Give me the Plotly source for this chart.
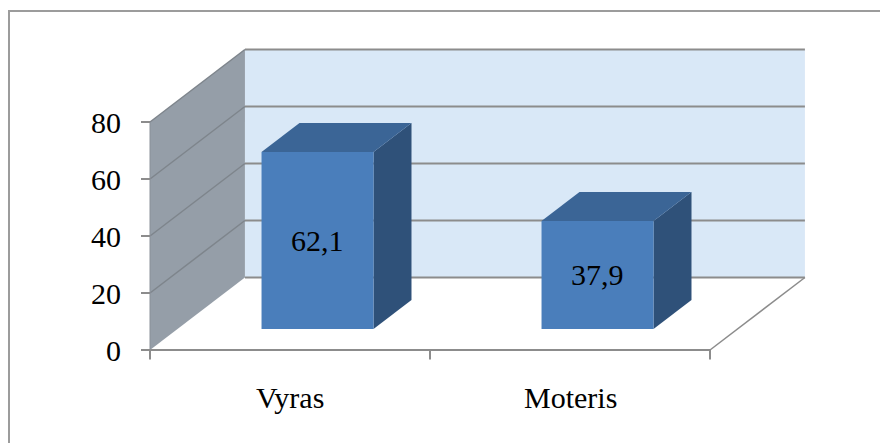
import plotly.graph_objects as go

# Chart data
categories = ["Vyras", "Moteris"]
values = [62.1, 37.9]
y_ticks = [0, 20, 40, 60, 80]

# 3D box geometry (in axis units)
WALL_TOP = 80
X_LEFT, X_RIGHT = -0.5, 1.5      # category span of floor / back wall
DEPTH_X = 0.339                  # horizontal shift for full depth (category units)
DEPTH_Y = 25.44                  # vertical shift for full depth (value units)
BAR_HALF = 0.2
D_FRONT, D_BACK = 0.29, 0.69

# Colours
WALL_BACK = "#D9E8F7"
WALL_LEFT = "#959EA8"
GRID = "#8C8C8C"
BAR_FRONT = "#4A7EBB"
BAR_TOP = "#3B6596"
BAR_SIDE = "#2F5179"
FONT = "Liberation Serif"


def proj(x, v, d):
    """Oblique projection of a point at category x, value v, depth d (0..1)."""
    return x + d * DEPTH_X, v + d * DEPTH_Y


def poly(points, fill, line_color=None, line_width=0):
    xs, ys = zip(*[proj(*p) for p in points])
    xs = list(xs) + [xs[0]]
    ys = list(ys) + [ys[0]]
    return go.Scatter(
        x=xs, y=ys, mode="lines", fill="toself", fillcolor=fill,
        line=dict(color=line_color or fill, width=line_width),
        hoverinfo="skip", showlegend=False,
    )


def seg(p0, p1, color=GRID, width=1.5):
    (x0, y0), (x1, y1) = proj(*p0), proj(*p1)
    return go.Scatter(
        x=[x0, x1], y=[y0, y1], mode="lines",
        line=dict(color=color, width=width),
        hoverinfo="skip", showlegend=False,
    )


fig = go.Figure()

# Floor
fig.add_trace(poly([(X_LEFT, 0, 0), (X_RIGHT, 0, 0), (X_RIGHT, 0, 1), (X_LEFT, 0, 1)], "white"))
# Back wall
fig.add_trace(poly([(X_LEFT, 0, 1), (X_RIGHT, 0, 1), (X_RIGHT, WALL_TOP, 1), (X_LEFT, WALL_TOP, 1)], WALL_BACK))
# Left wall
fig.add_trace(poly([(X_LEFT, 0, 0), (X_LEFT, WALL_TOP, 0), (X_LEFT, WALL_TOP, 1), (X_LEFT, 0, 1)], WALL_LEFT))

# Gridlines on back wall and left wall
for t in y_ticks:
    fig.add_trace(seg((X_LEFT, t, 1), (X_RIGHT, t, 1), GRID, 2))
    if t > 0:
        fig.add_trace(seg((X_LEFT, t, 0), (X_LEFT, t, 1), "#7E858C", 1.5))

# Floor edges and value-axis edge
fig.add_trace(seg((X_LEFT, 0, 0), (X_RIGHT, 0, 0), "#8C8C8C", 2))
fig.add_trace(seg((X_RIGHT, 0, 0), (X_RIGHT, 0, 1), "#8C8C8C", 1.5))
fig.add_trace(seg((X_LEFT, 0, 0), (X_LEFT, WALL_TOP, 0), "#8A9098", 1))

# Category boundary ticks
for b in [X_LEFT, X_LEFT + 1, X_RIGHT]:
    fig.add_trace(seg((b, 0, 0), (b, -3.3, 0), "#8C8C8C", 2))

# Bars: side, top, then front face
for i, v in enumerate(values):
    xl, xr = i - BAR_HALF, i + BAR_HALF
    fig.add_trace(poly([(xr, 0, D_FRONT), (xr, v, D_FRONT), (xr, v, D_BACK), (xr, 0, D_BACK)], BAR_SIDE))
    fig.add_trace(poly([(xl, v, D_FRONT), (xr, v, D_FRONT), (xr, v, D_BACK), (xl, v, D_BACK)], BAR_TOP))
    fig.add_trace(poly([(xl, 0, D_FRONT), (xr, 0, D_FRONT), (xr, v, D_FRONT), (xl, v, D_FRONT)], BAR_FRONT))
    cx, cy = proj(i, v / 2, D_FRONT)
    fig.add_annotation(
        x=cx, y=cy, text=f"{v:.1f}".replace(".", ","), showarrow=False,
        font=dict(family=FONT, size=30, color="black"),
        xanchor="center", yanchor="middle",
    )

# Category labels
for i, c in enumerate(categories):
    fig.add_annotation(
        x=i, y=-16.8, text=c, showarrow=False,
        font=dict(family=FONT, size=30, color="black"),
        xanchor="center", yanchor="middle",
    )

X_RANGE = [-290 / 280, 590 / 280]
Y_RANGE = [-93 / 2.85, 350 / 2.85]
left_pos = (X_LEFT - X_RANGE[0]) / (X_RANGE[1] - X_RANGE[0])

fig.update_layout(
    width=880, height=443,
    margin=dict(l=0, r=0, t=0, b=0),
    paper_bgcolor="white", plot_bgcolor="white",
    xaxis=dict(range=X_RANGE, visible=False, fixedrange=True),
    yaxis=dict(
        range=Y_RANGE, anchor="free", position=left_pos,
        tickvals=y_ticks, ticks="outside", ticklen=9, tickwidth=2,
        tickcolor="#8C8C8C", showgrid=False, zeroline=False, showline=False,
        tickfont=dict(family=FONT, size=30, color="black"),
        ticklabelstandoff=14, fixedrange=True,
    ),
    shapes=[dict(
        type="rect", xref="paper", yref="paper",
        x0=9 / 880, x1=1.02, y0=-0.05, y1=1 - 11 / 443,
        line=dict(color="#9C9C9C", width=2), fillcolor="rgba(0,0,0,0)", layer="above",
    )],
)

fig.write_html("out.html")
